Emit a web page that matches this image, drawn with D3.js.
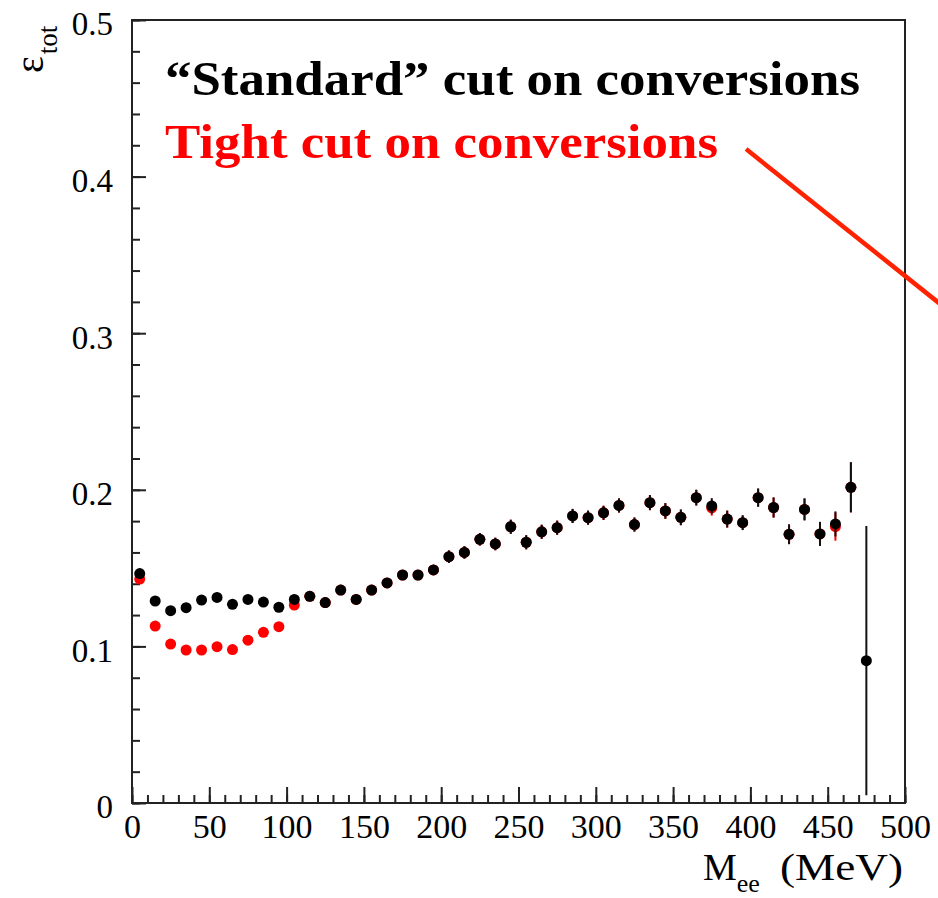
<!DOCTYPE html>
<html>
<head>
<meta charset="utf-8">
<script src="https://cdn.jsdelivr.net/npm/d3@7"></script>
<style>
  html, body { margin: 0; padding: 0; background: #fff; }
  svg { display: block; }
</style>
</head>
<body>
<svg id="chart" width="938" height="898"></svg>
<script>
// Bin centres of the invariant-mass histogram (MeV)
const massBins = [5,15,25,35,45,55,65,75,85,95,105,115,125,135,145,155,165,175,185,195,
  205,215,225,235,245,255,265,275,285,295,305,315,325,335,345,355,365,375,385,395,
  405,415,425,435,445,455,465,475];

// Total efficiency, "standard" conversion cut
const standardEff = [0.1465,0.129,0.1228,0.1247,0.1296,0.1313,0.1269,0.130,0.1283,0.125,
  0.130,0.132,0.1280,0.136,0.130,0.136,0.1405,0.1456,0.1456,0.1488,
  0.1573,0.160,0.1684,0.1654,0.1764,0.1665,0.1732,0.1758,0.1833,0.1822,
  0.1853,0.190,0.1778,0.1918,0.1865,0.1824,0.195,0.1897,0.1813,0.179,
  0.195,0.1887,0.1716,0.1875,0.1718,0.1782,0.2016,0.0909];
const standardErr = [0.003,0.003,0.003,0.003,0.003,0.003,0.003,0.003,0.003,0.003,
  0.003,0.003,0.003,0.003,0.003,0.003,0.003,0.003,0.003,0.003,
  0.004,0.004,0.004,0.004,0.0045,0.0045,0.0045,0.0045,0.0045,0.0045,
  0.0045,0.0045,0.0045,0.0048,0.005,0.005,0.005,0.005,0.0054,0.0047,
  0.0058,0.0064,0.0063,0.007,0.0077,0.008,0.016,0.086];

// Total efficiency, tight conversion cut (no entry in the last bin)
const tightEff = [0.143,0.113,0.1015,0.0977,0.0977,0.0998,0.098,0.104,0.109,0.1126,
  0.1264,0.132,0.1280,0.136,0.130,0.136,0.1405,0.1456,0.1456,0.1488,
  0.1573,0.160,0.1684,0.1654,0.1764,0.1665,0.1732,0.1758,0.1833,0.1822,
  0.1853,0.190,0.1778,0.1918,0.1865,0.1824,0.195,0.1885,0.1813,0.179,
  0.195,0.1887,0.1716,0.1875,0.1718,0.1765,0.2016,null];
const tightErr = [0.003,0.003,0.003,0.003,0.003,0.003,0.003,0.003,0.003,0.003,
  0.003,0.003,0.003,0.003,0.003,0.003,0.003,0.003,0.003,0.003,
  0.004,0.004,0.004,0.004,0.0045,0.0045,0.0045,0.0045,0.0045,0.0045,
  0.0045,0.0045,0.0045,0.0048,0.005,0.005,0.005,0.005,0.0054,0.0047,
  0.0058,0.0064,0.0063,0.007,0.0077,0.009,0.016,null];

const xMajorTicks = [0,50,100,150,200,250,300,350,400,450,500];
const yMajorTicks = [0,0.1,0.2,0.3,0.4,0.5];
const yTickLabels = ["0","0.1","0.2","0.3","0.4","0.5"];

const legendLines = ["\u201cStandard\u201d cut on conversions", "Tight cut on conversions"];

// Plot frame
const frame = { left: 132, right: 905, top: 20, bottom: 803 };
const serif = "'Liberation Serif', 'Times New Roman', serif";

const svg = d3.select("#chart");
const x = d3.scaleLinear().domain([0, 500]).range([frame.left, frame.right]);
const y = d3.scaleLinear().domain([0, 0.5]).range([frame.bottom, frame.top]);

// Minor ticks
svg.append("g")
  .attr("transform", `translate(0,${frame.bottom})`)
  .call(d3.axisBottom(x).tickValues(d3.range(0, 501, 10)).tickSizeInner(-8).tickSizeOuter(0).tickFormat(""))
  .call(g => g.select(".domain").remove())
  .call(g => g.selectAll("line").attr("stroke", "#222").attr("stroke-width", 2));
svg.append("g")
  .attr("transform", `translate(${frame.left},0)`)
  .call(d3.axisLeft(y).tickValues(d3.range(0, 0.5001, 0.02)).tickSizeInner(-8).tickSizeOuter(0).tickFormat(""))
  .call(g => g.select(".domain").remove())
  .call(g => g.selectAll("line").attr("stroke", "#222").attr("stroke-width", 2));

// Major ticks with labels
svg.append("g")
  .attr("transform", `translate(0,${frame.bottom})`)
  .call(d3.axisBottom(x).tickValues(xMajorTicks).tickSizeInner(-16).tickSizeOuter(0).tickPadding(11).tickFormat(d3.format("d")))
  .call(g => g.select(".domain").remove())
  .call(g => g.selectAll("line").attr("stroke", "#222").attr("stroke-width", 2))
  .call(g => g.selectAll("text").attr("font-family", serif).attr("font-size", 34).attr("fill", "#000"));
svg.append("g")
  .attr("transform", `translate(${frame.left},0)`)
  .call(d3.axisLeft(y).tickValues(yMajorTicks).tickSizeInner(-14).tickSizeOuter(0).tickPadding(19)
        .tickFormat((d, i) => yTickLabels[i]))
  .call(g => g.select(".domain").remove())
  .call(g => g.selectAll("line").attr("stroke", "#222").attr("stroke-width", 2))
  .call(g => g.selectAll("text").attr("font-family", serif).attr("font-size", 33).attr("fill", "#000").attr("dy", "0.45em"));

// Frame box
svg.append("rect")
  .attr("x", frame.left).attr("y", frame.top)
  .attr("width", frame.right - frame.left).attr("height", frame.bottom - frame.top)
  .attr("fill", "none").attr("stroke", "#222").attr("stroke-width", 2);

// Series drawing: error bars and filled markers
function drawSeries(vals, errs, color, errColor) {
  const pts = massBins.map((m, i) => ({ m, v: vals[i], e: errs[i] })).filter(d => d.v != null);
  const g = svg.append("g");
  g.selectAll("line.err").data(pts).join("line")
    .attr("class", "err")
    .attr("x1", d => x(d.m)).attr("x2", d => x(d.m))
    .attr("y1", d => y(Math.min(0.5, d.v + d.e)))
    .attr("y2", d => y(Math.max(0, d.v - d.e)))
    .attr("stroke", errColor).attr("stroke-width", 2);
  g.selectAll("circle").data(pts).join("circle")
    .attr("cx", d => x(d.m)).attr("cy", d => y(d.v))
    .attr("r", 5.5).attr("fill", color);
}
drawSeries(tightEff, tightErr, "#ff0000", "#ff0000");
drawSeries(standardEff, standardErr, "#000000", "#111111");

// Legend text
svg.append("text")
  .attr("x", 165).attr("y", 95)
  .attr("font-family", serif).attr("font-weight", "bold").attr("font-size", 48)
  .attr("textLength", 695).attr("lengthAdjust", "spacingAndGlyphs")
  .attr("fill", "#000").text(legendLines[0]);
svg.append("text")
  .attr("x", 165).attr("y", 158)
  .attr("font-family", serif).attr("font-weight", "bold").attr("font-size", 48)
  .attr("textLength", 553).attr("lengthAdjust", "spacingAndGlyphs")
  .attr("fill", "#ff0000").text(legendLines[1]);

// Pointer line from the tight-cut label
const pointerFrom = [397.2, 0.4176], pointerTo = [535, 0.309];
svg.append("line")
  .attr("x1", x(pointerFrom[0])).attr("y1", y(pointerFrom[1]))
  .attr("x2", x(pointerTo[0])).attr("y2", y(pointerTo[1]))
  .attr("stroke", "#ff2200").attr("stroke-width", 4.5);

// Axis titles
const xt = svg.append("text")
  .attr("x", 703).attr("y", 880)
  .attr("font-family", serif).attr("font-size", 38).attr("fill", "#000");
xt.append("tspan").text("M");
xt.append("tspan").attr("font-size", 26).attr("dy", 12).text("ee");
xt.append("tspan").attr("x", 780).attr("dy", -12).attr("textLength", 123).attr("lengthAdjust", "spacingAndGlyphs").text("(MeV)");

const yt = svg.append("text")
  .attr("transform", "translate(43,73) rotate(-90)")
  .attr("font-family", serif).attr("font-size", 40).attr("fill", "#000");
yt.append("tspan").text("\u03b5");
yt.append("tspan").attr("font-size", 27).attr("dy", 14).attr("dx", 2).text("tot");
</script>
</body>
</html>
